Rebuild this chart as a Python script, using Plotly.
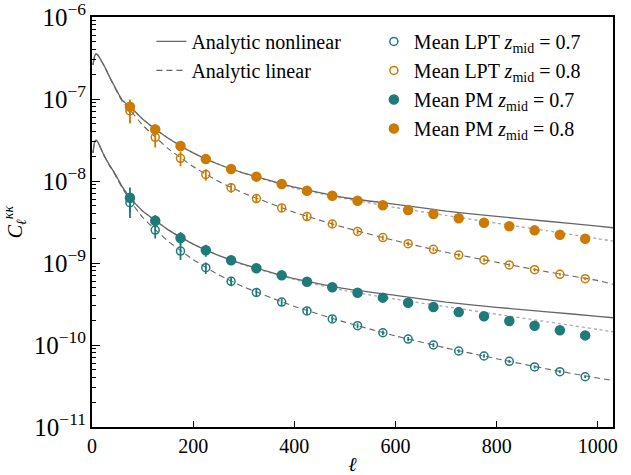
import plotly.graph_objects as go

# ---------------- data ----------------
ell_pts = [75, 125, 175, 225, 275, 325, 375, 425, 475, 525, 575, 625, 675, 725, 775, 825, 875, 925, 975]

lpt_07 = [5.44e-9, 2.52e-9, 1.40e-9, 8.77e-10, 5.97e-10, 4.38e-10, 3.34e-10, 2.60e-10, 2.08e-10, 1.72e-10,
          1.41e-10, 1.18e-10, 1.00e-10, 8.45e-11, 7.34e-11, 6.33e-11, 5.40e-11, 4.73e-11, 4.10e-11]
lpt_07_err = [1.9e-9, 5.3e-10, 3.1e-10, 1.4e-10, 7.8e-11, 4.8e-11, 3.3e-11, 2.3e-11, 1.7e-11, 1.2e-11,
              9.2e-12, 7.1e-12, 5.5e-12, 4.2e-12, 3.7e-12, 2.8e-12, 2.4e-12, 1.9e-12, 1.6e-12]

lpt_08 = [7.14e-8, 3.41e-8, 1.89e-8, 1.20e-8, 8.30e-9, 6.10e-9, 4.69e-9, 3.68e-9, 2.99e-9, 2.43e-9,
          2.04e-9, 1.72e-9, 1.47e-9, 1.25e-9, 1.09e-9, 9.46e-10, 8.29e-10, 7.28e-10, 6.44e-10]
lpt_08_err = [2.1e-8, 8.5e-9, 3.8e-9, 1.9e-9, 1.1e-9, 6.7e-10, 4.7e-10, 3.3e-10, 2.4e-10, 1.7e-10,
              1.3e-10, 1.0e-10, 8.1e-11, 6.3e-11, 5.5e-11, 4.3e-11, 3.7e-11, 2.9e-11, 2.6e-11]

pm_07 = [6.26e-9, 3.28e-9, 2.02e-9, 1.43e-9, 1.08e-9, 8.61e-10, 7.07e-10, 5.91e-10, 5.05e-10, 4.34e-10,
         3.78e-10, 3.28e-10, 2.90e-10, 2.52e-10, 2.24e-10, 1.96e-10, 1.72e-10, 1.51e-10, 1.31e-10]
pm_07_err = [2.1e-9, 5.6e-10, 3.6e-10, 2.4e-10, 1.3e-10, 8.6e-11, 5.7e-11, 4.1e-11, 3.0e-11, 2.2e-11,
             1.9e-11, 1.5e-11, 1.2e-11, 8.8e-12, 6.7e-12, 5.9e-12, 4.3e-12, 3.8e-12, 2.6e-12]

pm_08 = [8.05e-8, 4.26e-8, 2.67e-8, 1.85e-8, 1.40e-8, 1.13e-8, 9.19e-9, 7.62e-9, 6.62e-9, 5.75e-9,
         5.05e-9, 4.42e-9, 3.96e-9, 3.51e-9, 3.10e-9, 2.80e-9, 2.50e-9, 2.21e-9, 1.98e-9]
pm_08_err = [1.8e-8, 6.4e-9, 3.7e-9, 1.9e-9, 1.1e-9, 8.0e-10, 5.5e-10, 3.8e-10, 3.3e-10, 2.3e-10,
             2.0e-10, 1.5e-10, 1.2e-10, 1.0e-10, 9.0e-11, 7.0e-11, 6.0e-11, 4.5e-11, 4.0e-11]

ell_curve = [2, 5, 8, 12, 18, 25, 35, 45, 60, 75, 100, 125, 150, 200, 250, 300, 400, 500,
             600, 700, 800, 900, 1000, 1030]

nl_08 = [2.6e-7, 3.3e-7, 3.55e-7, 3.4e-7, 2.95e-7, 2.48e-7, 1.85e-7, 1.41e-7, 9.6e-8, 8.1e-8, 5.7e-8,
         4.3e-8, 3.35e-8, 2.2e-8, 1.6e-8, 1.25e-8, 8.4e-9, 6.25e-9, 5.2e-9, 4.3e-9, 3.7e-9, 3.23e-9,
         2.81e-9, 2.69e-9]
lin_08 = [2.6e-7, 3.3e-7, 3.55e-7, 3.4e-7, 2.95e-7, 2.47e-7, 1.83e-7, 1.38e-7, 9.3e-8, 7.4e-8, 4.8e-8,
          3.45e-8, 2.5e-8, 1.5e-8, 9.9e-9, 7.1e-9, 4.15e-9, 2.7e-9, 1.87e-9, 1.35e-9, 1.02e-9, 7.8e-10,
          6.1e-10, 5.5e-10]
dot_08 = [2.6e-7, 3.3e-7, 3.55e-7, 3.4e-7, 2.95e-7, 2.48e-7, 1.85e-7, 1.41e-7, 9.6e-8, 8.1e-8, 5.7e-8,
          4.3e-8, 3.35e-8, 2.2e-8, 1.6e-8, 1.24e-8, 8.2e-9, 6.1e-9, 4.75e-9, 3.8e-9, 3.06e-9, 2.47e-9,
          1.98e-9, 1.85e-9]

nl_07 = [2.2e-8, 2.95e-8, 3.15e-8, 2.95e-8, 2.45e-8, 1.98e-8, 1.55e-8, 1.24e-8, 8.5e-9, 6.3e-9, 4.3e-9,
         3.3e-9, 2.55e-9, 1.7e-9, 1.24e-9, 9.6e-10, 6.45e-10, 4.86e-10, 4.02e-10, 3.33e-10, 2.88e-10,
         2.54e-10, 2.24e-10, 2.15e-10]
lin_07 = [2.2e-8, 2.95e-8, 3.15e-8, 2.95e-8, 2.45e-8, 1.97e-8, 1.53e-8, 1.21e-8, 8.2e-9, 5.8e-9, 3.6e-9,
          2.55e-9, 1.85e-9, 1.1e-9, 7.2e-10, 5.1e-10, 2.95e-10, 1.9e-10, 1.29e-10, 9.2e-11, 6.8e-11,
          5.1e-11, 3.95e-11, 3.7e-11]
dot_07 = [2.2e-8, 2.95e-8, 3.15e-8, 2.95e-8, 2.45e-8, 1.98e-8, 1.55e-8, 1.24e-8, 8.5e-9, 6.3e-9, 4.3e-9,
          3.3e-9, 2.55e-9, 1.7e-9, 1.24e-9, 9.5e-10, 6.3e-10, 4.6e-10, 3.62e-10, 2.93e-10, 2.37e-10,
          1.92e-10, 1.55e-10, 1.45e-10]

x_ticks = [0, 200, 400, 600, 800, 1000]

# ---------------- styles ----------------
ORANGE = "#CC7A00"
TEAL = "#1F7A7A"
GREY = "#666666"
LIGHT = "#AAAAAA"
FONT = "Liberation Serif"

fig = go.Figure()

# dotted (no legend)
for yv in (dot_08, dot_07):
    fig.add_trace(go.Scatter(x=ell_curve, y=yv, mode="lines", showlegend=False,
                             line=dict(color=LIGHT, width=1.3, dash="dot", shape="spline", smoothing=0.4),
                             hoverinfo="skip"))

fig.add_trace(go.Scatter(x=ell_curve, y=nl_08, mode="lines", name="Analytic nonlinear", legend="legend",
                         line=dict(color=GREY, width=1.3, shape="spline", smoothing=0.4)))
fig.add_trace(go.Scatter(x=ell_curve, y=nl_07, mode="lines", showlegend=False,
                         line=dict(color=GREY, width=1.3, shape="spline", smoothing=0.4)))
fig.add_trace(go.Scatter(x=ell_curve, y=lin_08, mode="lines", name="Analytic linear", legend="legend",
                         line=dict(color=GREY, width=1.1, dash="6px,4px", shape="spline", smoothing=0.4)))
fig.add_trace(go.Scatter(x=ell_curve, y=lin_07, mode="lines", showlegend=False,
                         line=dict(color=GREY, width=1.1, dash="6px,4px", shape="spline", smoothing=0.4)))

series = [
    ("Mean LPT <i>z</i><sub>mid</sub> = 0.7", lpt_07, lpt_07_err, TEAL, True),
    ("Mean LPT <i>z</i><sub>mid</sub> = 0.8", lpt_08, lpt_08_err, ORANGE, True),
    ("Mean PM <i>z</i><sub>mid</sub> = 0.7", pm_07, pm_07_err, TEAL, False),
    ("Mean PM <i>z</i><sub>mid</sub> = 0.8", pm_08, pm_08_err, ORANGE, False),
]
for name, yv, err, col, hollow in series:
    fig.add_trace(go.Scatter(
        x=ell_pts, y=yv, mode="markers", name=name, legend="legend2",
        marker=dict(symbol="circle-open" if hollow else "circle", size=8 if hollow else 9,
                    color=col, line=dict(color=col, width=1.5)),
        error_y=dict(type="data", array=err, color=col, thickness=1.8, width=0),
    ))

fig.update_layout(
    width=631, height=475,
    margin=dict(l=92, r=18, t=17, b=48),
    plot_bgcolor="white", paper_bgcolor="white",
    font=dict(family=FONT, size=19, color="black"),
    legend=dict(x=0.114, y=0.988, xanchor="left", yanchor="top", bgcolor="rgba(0,0,0,0)",
                font=dict(family=FONT, size=20), tracegroupgap=0, itemwidth=30),
    legend2=dict(x=0.541, y=0.988, xanchor="left", yanchor="top", bgcolor="rgba(0,0,0,0)",
                 font=dict(family=FONT, size=20), tracegroupgap=0, itemwidth=30),
)

fig.update_xaxes(
    range=[0, 1030], tickvals=x_ticks, ticktext=[str(v) for v in x_ticks],
    ticks="inside", ticklen=6, tickwidth=1, tickcolor="black",
    showline=True, linecolor="black", linewidth=2, mirror=True,
    showgrid=False, zeroline=False, automargin=False, ticklabeloverflow="allow",
    title=dict(text="<i>ℓ</i>", font=dict(family=FONT, size=20), standoff=8),
    tickfont=dict(family=FONT, size=20),
)
fig.update_yaxes(
    type="log", range=[-11, -6], dtick=1, exponentformat="power",
    ticks="inside", ticklen=8, tickwidth=1, tickcolor="black",
    minor=dict(ticks="inside", ticklen=4, tickcolor="black", dtick="D1", showgrid=False),
    showline=True, linecolor="black", linewidth=2, mirror=True,
    showgrid=False, zeroline=False, automargin=False, ticklabeloverflow="allow",
    title=dict(text="<i>C</i><sub><i>ℓ</i></sub><sup><i>κκ</i></sup>", font=dict(family=FONT, size=20), standoff=6),
    tickfont=dict(family=FONT, size=20),
)

fig.write_html("out.html", config={"displayModeBar": False},
               post_script="document.body.style.margin='0';document.body.style.overflow='hidden';")
